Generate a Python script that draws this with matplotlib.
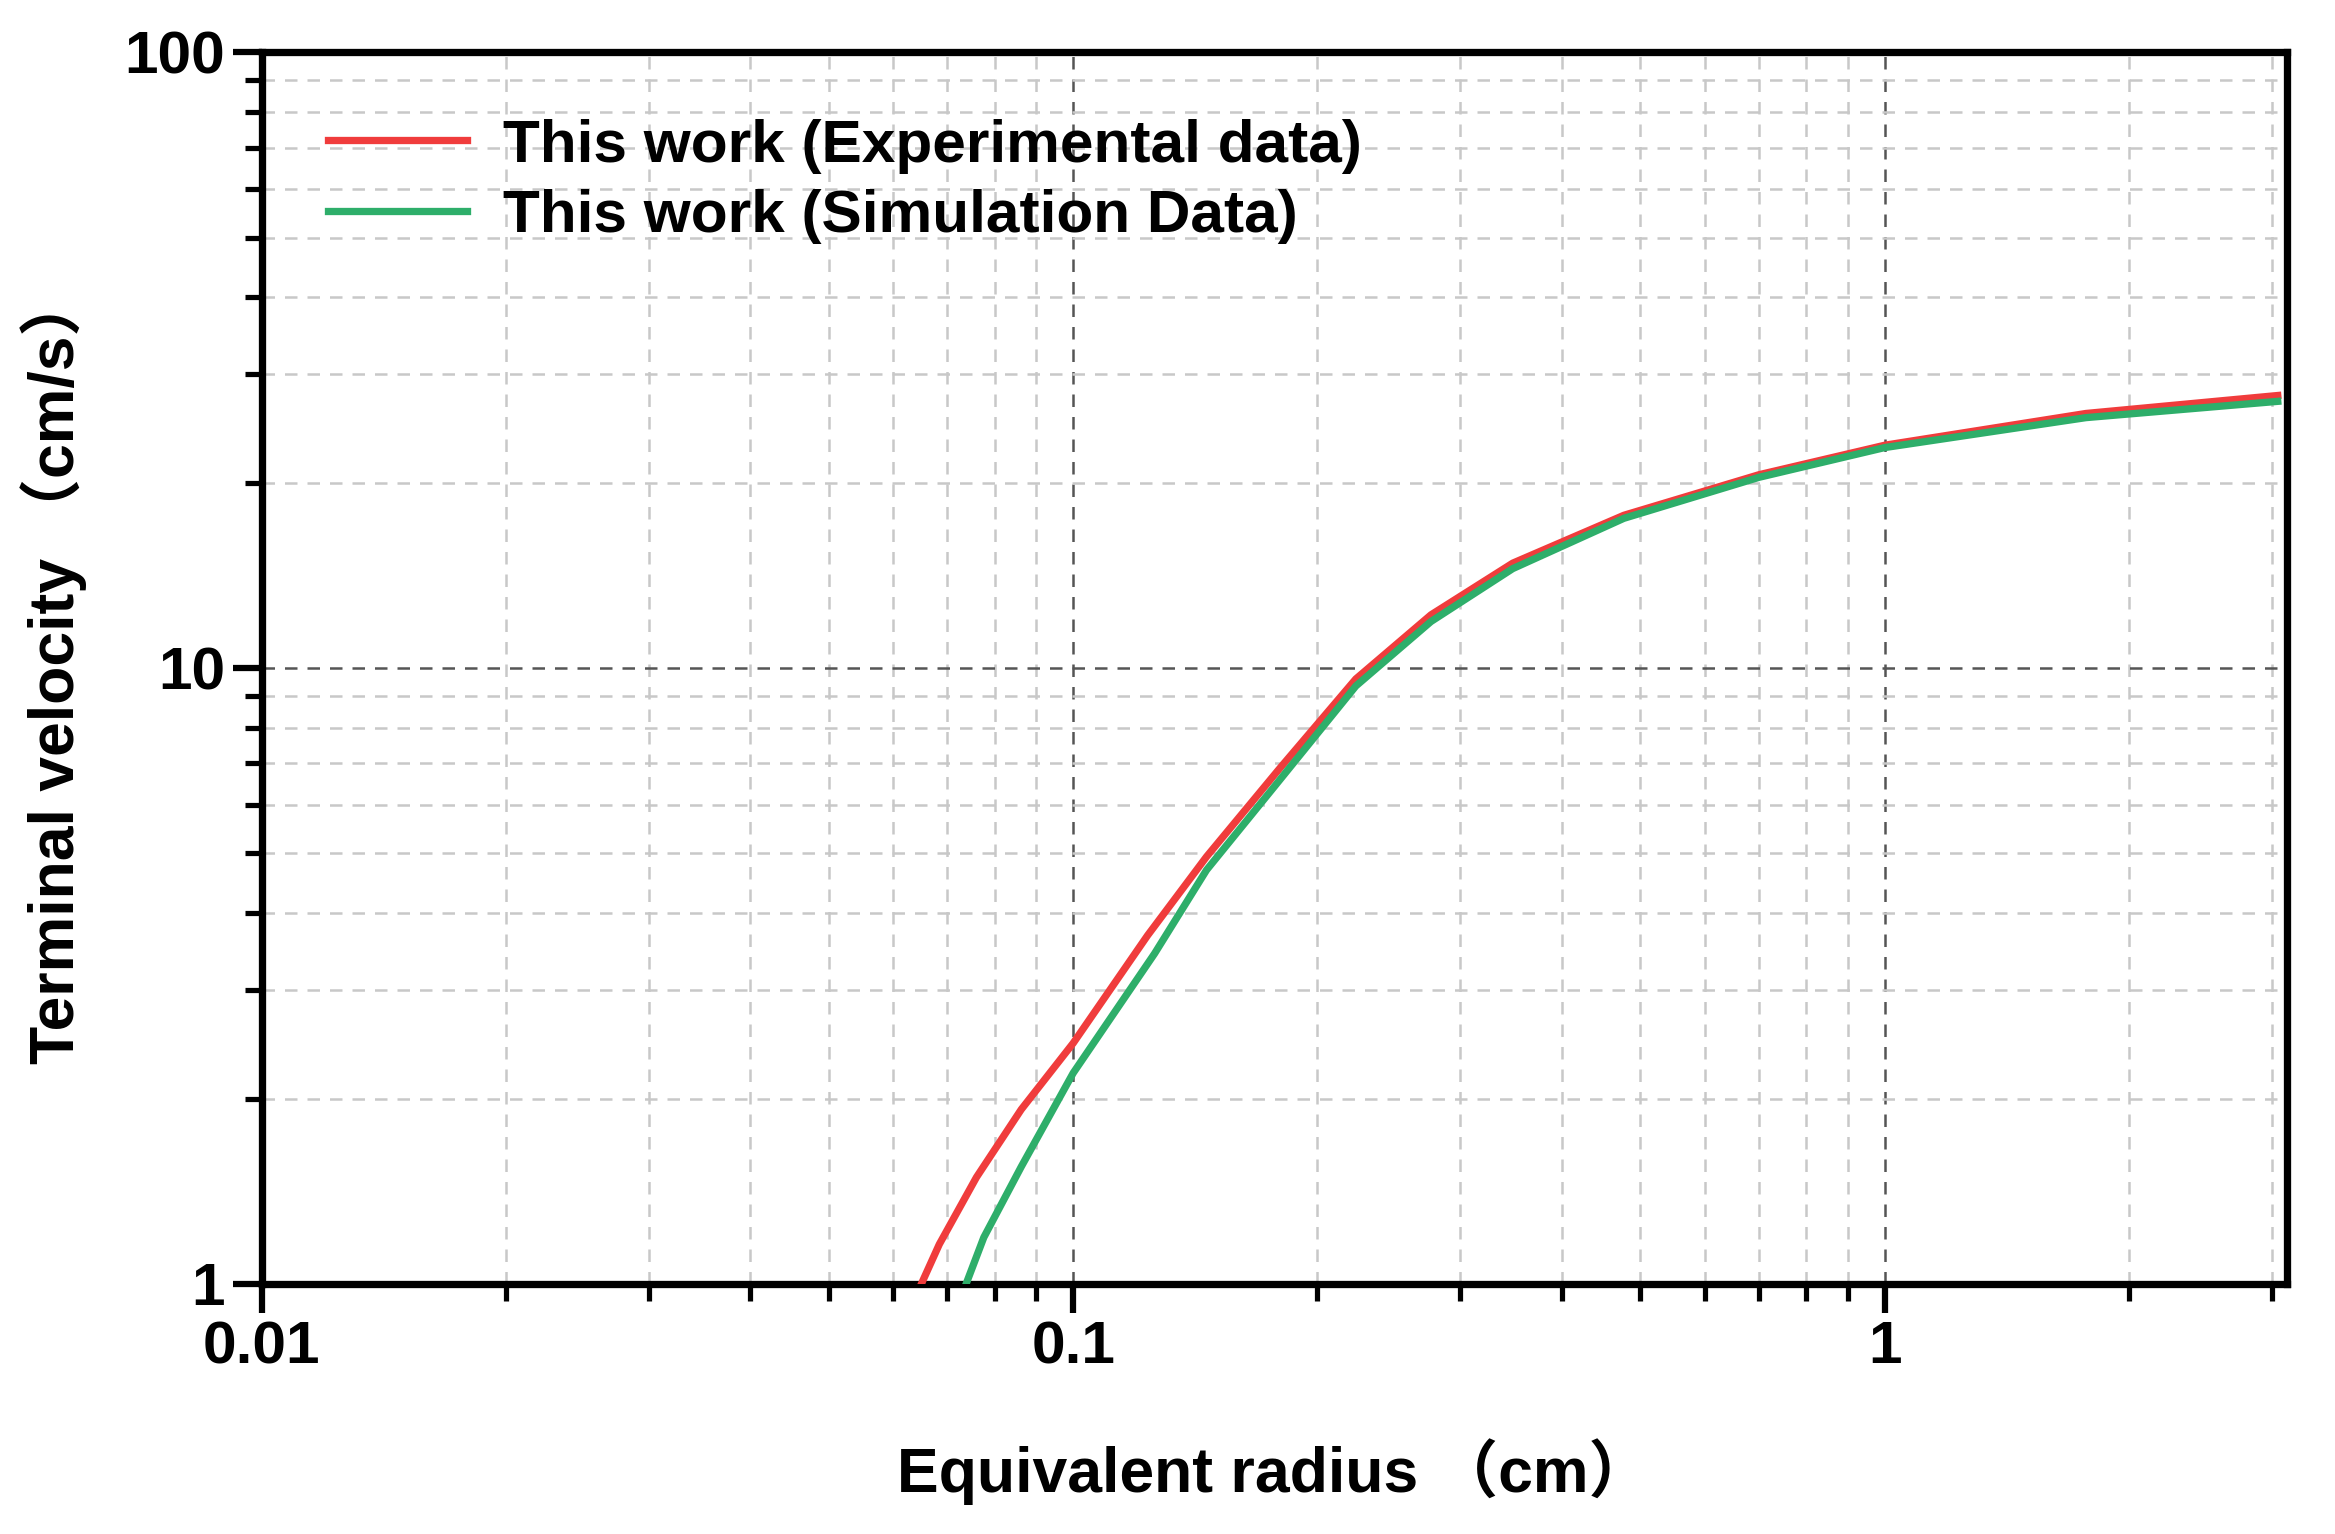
import matplotlib
matplotlib.use("Agg")
import matplotlib.pyplot as plt
from matplotlib.ticker import LogLocator, NullFormatter, FixedLocator, FixedFormatter

plt.rcParams['font.family'] = ['Liberation Sans', 'Noto Sans CJK SC', 'DejaVu Sans']
plt.rcParams['font.weight'] = 'bold'

exp_r = [0.065, 0.0684, 0.076, 0.0863, 0.1, 0.1235, 0.146, 0.180, 0.223, 0.276, 0.348,
         0.477, 0.70, 1.0, 1.77, 3.05]
exp_v = [1.0, 1.16, 1.49, 1.92, 2.46, 3.68, 4.94, 6.89, 9.6, 12.2, 14.8, 17.7, 20.6,
         23.0, 25.9, 27.7]
sim_r = [0.0738, 0.0776, 0.0863, 0.1, 0.126, 0.146, 0.18, 0.223, 0.276, 0.348, 0.477,
         0.70, 1.0, 1.77, 3.05]
sim_v = [1.0, 1.19, 1.55, 2.2, 3.44, 4.7, 6.6, 9.35, 11.9, 14.5, 17.5, 20.4, 22.8,
         25.5, 27.1]

fig = plt.figure(figsize=(15.573, 10.227), dpi=150)
ax = fig.add_axes([0.112, 0.163, 0.867, 0.803])
ax.plot(exp_r, exp_v, color="#f03c3c", lw=3.5, label="This work (Experimental data)", zorder=3)
ax.plot(sim_r, sim_v, color="#2eae6a", lw=3.5, label="This work (Simulation Data)", zorder=3)
ax.set_xscale("log")
ax.set_yscale("log")
ax.set_xlim(0.01, 3.13)
ax.set_ylim(1, 100)

ax.xaxis.set_major_locator(FixedLocator([0.01, 0.1, 1]))
ax.xaxis.set_major_formatter(FixedFormatter(["0.01", "0.1", "1"]))
ax.yaxis.set_major_locator(FixedLocator([1, 10, 100]))
ax.yaxis.set_major_formatter(FixedFormatter(["1", "10", "100"]))
ax.xaxis.set_minor_locator(LogLocator(base=10, subs=range(2, 10)))
ax.yaxis.set_minor_locator(LogLocator(base=10, subs=range(2, 10)))
ax.xaxis.set_minor_formatter(NullFormatter())
ax.yaxis.set_minor_formatter(NullFormatter())

ax.grid(True, which="major", ls=(0, (5, 4)), color="#555555", lw=1.2)
ax.grid(True, which="minor", ls=(0, (5, 4)), color="#c8c8c8", lw=1.2)
for s in ax.spines.values():
    s.set_linewidth(3.5)
ax.tick_params(which="major", length=14, width=3, labelsize=29, direction="out")
ax.tick_params(which="minor", length=8, width=2.5, direction="out")

ax.set_xlabel("Equivalent radius （cm）", fontsize=30, fontweight="bold", labelpad=30)
ax.set_ylabel("Terminal velocity （cm/s）", fontsize=30, fontweight="bold", labelpad=18)
ax.legend(loc="upper left", frameon=False, fontsize=29, handlelength=2.3,
          borderaxespad=0.5, borderpad=0.6, labelspacing=0.25, handletextpad=0.6)

fig.savefig("out.png", dpi=150)
